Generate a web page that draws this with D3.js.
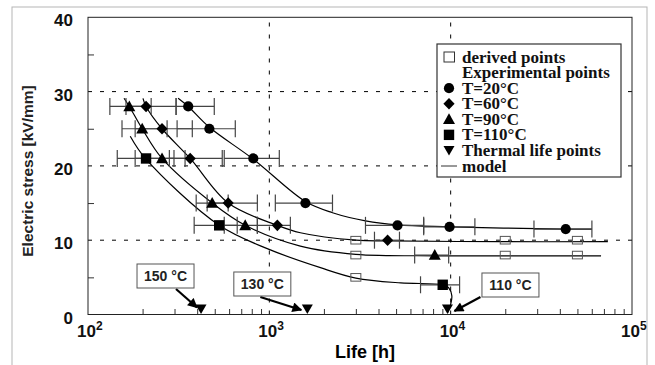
<!DOCTYPE html>
<html>
<head>
<meta charset="utf-8">
<script src="https://cdn.jsdelivr.net/npm/d3@7"></script>
<style>
  body { margin: 0; background: #fff; }
  .ticklab { font-family: "Liberation Sans", Arial, sans-serif; font-weight: bold; font-size: 17px; fill: #111; }
  .grid { stroke: #000; stroke-width: 1; stroke-dasharray: 4,8; fill: none; }
  .model { stroke: #000; stroke-width: 1.2; fill: none; }
  .err { stroke: #444; stroke-width: 1.2; fill: none; }
  .legend text { font-family: "Liberation Serif", "Times New Roman", serif; font-weight: bold; font-size: 17px; fill: #111; }
  .note text { font-family: "Liberation Sans", Arial, sans-serif; font-weight: bold; font-size: 14px; fill: #222; }
</style>
</head>
<body>
<script>
// axis ticks
var lifeTicks = [100, 1000, 10000, 100000];
var lifeExp = ["2", "3", "4", "5"];
var stressTicks = [0, 10, 20, 30, 40];
var stressMinor = [5, 15, 25, 35];
var lifeGrid = [1000, 10000];
var stressGrid = [10, 20, 30];

// experimental points: [life h, stress kV/mm, life low, life high]
var pts20 = [[357, 28, 306, 497], [467, 25, 310, 649], [816, 21, 564, 1135], [1581, 15, 1079, 2230],
             [5090, 12, 3390, 7100], [9860, 11.8, 7100, 13600], [43100, 11.5, 28800, 60100]];
var pts60 = [[209, 28, 162, 306], [256, 25, 182, 376], [366, 21, 281, 550], [593, 15, 454, 859],
             [1107, 12, 859, 1306], [4490, 10, 3800, 5220]];
var pts90 = [[169, 28, 132, 223], [199, 25, 154, 273], [256, 21, 182, 343], [484, 15, 395, 593],
             [736, 12, 564, 859], [8170, 8, 6330, 9750]];
var pts110 = [[209, 21, 145, 298], [529, 12, 385, 665], [9040, 4, 6820, 11200]];

// derived points (open squares)
var derived = [[3000, 10], [20000, 10], [50000, 10], [3000, 8], [20000, 8], [50000, 8], [3000, 5]];

// thermal life points
var thermalLife = [420, 1620, 9600];
var thermalLabels = ["150 °C", "130 °C", "110 °C"];

// model curves: [life, stress]
var model20 = [[314, 29.1], [357, 28], [467, 25.2], [816, 20.9], [1581, 15.2], [2230, 13.7],
               [3390, 12.6], [5090, 12.05], [9860, 11.8], [43100, 11.5], [60100, 11.5]];
var model60 = [[201, 29.1], [209, 28], [256, 25], [366, 21], [593, 15], [1107, 12], [1483, 11],
               [3000, 10], [4490, 9.9], [18900, 9.8], [73600, 9.8]];
var model90 = [[158, 29.1], [169, 28], [199, 25], [256, 21], [484, 15], [736, 12], [1483, 9.2],
               [3000, 8.1], [8170, 7.9], [18900, 7.9], [67500, 7.9]];
var model110 = [[171, 24], [209, 20.9], [529, 12], [1013, 8.7], [1914, 6.3], [3000, 4.9], [5300, 4.25],
                [9040, 4], [9750, 3.6], [10150, 2.5], [9980, 1.3], [9610, 0.2]];

var legendLabels = ["derived points", "Experimental points", "T=20°C", "T=60°C", "T=90°C", "T=110°C",
                    "Thermal life points", "model"];

var W = 655, H = 365;
var plotLeft = 88, plotRight = 632, plotTop = 17.3, plotBottom = 314.5;

var svg = d3.select("body").append("svg")
  .attr("width", W).attr("height", H);

// outer frame of the figure
svg.append("rect")
  .attr("x", 12).attr("y", 7).attr("width", 635).attr("height", 400)
  .attr("fill", "none").attr("stroke", "#b5b5b5").attr("stroke-width", 1);

var x = d3.scaleLog().domain([100, 100000]).range([plotLeft, plotRight]);
var y = d3.scaleLinear().domain([0, 40]).range([plotBottom, plotTop]);

// shape paths
function shapePath(kind) {
  if (kind == "circle") return d3.symbol(d3.symbolCircle, 82)();
  if (kind == "diamond") return "M0,-5.8L5.6,0L0,5.8L-5.6,0Z";
  if (kind == "triangle") return "M0,-6L6,4.8L-6,4.8Z";
  if (kind == "square") return "M-5.2,-5.2h10.4v10.4h-10.4Z";
  if (kind == "down") return "M-5.5,-9.5L5.5,-9.5L0,0Z";
  return "";
}

var series = [
  { shape: "circle", pts: pts20, curve: model20 },
  { shape: "diamond", pts: pts60, curve: model60 },
  { shape: "triangle", pts: pts90, curve: model90 },
  { shape: "square", pts: pts110, curve: model110 }
];

// grid
svg.selectAll(".hgrid").data(stressGrid).enter().append("line")
  .attr("class", "grid")
  .attr("x1", plotLeft).attr("x2", plotRight)
  .attr("y1", function(d) { return y(d); }).attr("y2", function(d) { return y(d); });
svg.selectAll(".vgrid").data(lifeGrid).enter().append("line")
  .attr("class", "grid")
  .attr("y1", plotBottom).attr("y2", plotTop)
  .attr("x1", function(d) { return x(d); }).attr("x2", function(d) { return x(d); });

// minor ticks, pointing inside
var minorLife = x.ticks().filter(function(d) { return lifeTicks.indexOf(d) < 0; });
var gx = svg.append("g").attr("transform", "translate(0," + plotBottom + ")")
  .call(d3.axisBottom(x).tickValues(minorLife).tickSize(-5.5).tickFormat(""));
gx.select(".domain").remove();
gx.selectAll("line").attr("stroke", "#333");

var gy = svg.append("g").attr("transform", "translate(" + plotLeft + ",0)")
  .call(d3.axisLeft(y).tickValues(stressMinor).tickSize(-6).tickFormat(""));
gy.select(".domain").remove();
gy.selectAll("line").attr("stroke", "#333");

// y tick labels
var gyl = svg.append("g").attr("transform", "translate(" + plotLeft + ",0)")
  .call(d3.axisLeft(y).tickValues(stressTicks).tickSize(0).tickPadding(15));
gyl.select(".domain").remove();
gyl.selectAll("text").attr("class", "ticklab").attr("font-size", null).attr("font-family", null)
  .attr("dy", "0.5em");

// x tick labels with exponents
var xl = svg.append("g").selectAll("text").data(lifeTicks).enter().append("text")
  .attr("class", "ticklab")
  .attr("x", function(d) { return x(d) - 11; })
  .attr("y", plotBottom + 22);
xl.append("tspan").text("10");
xl.append("tspan").attr("dy", -7).attr("font-size", 12).text(function(d, i) { return lifeExp[i]; });

// frame
svg.append("rect")
  .attr("x", plotLeft).attr("y", plotTop).attr("width", plotRight - plotLeft).attr("height", plotBottom - plotTop)
  .attr("fill", "none").attr("stroke", "#222").attr("stroke-width", 1);

// axis titles
svg.append("text")
  .attr("x", 365).attr("y", 358)
  .attr("text-anchor", "middle")
  .attr("font-family", "Liberation Sans, Arial, sans-serif")
  .attr("font-weight", "bold").attr("font-size", 18)
  .text("Life [h]");
svg.append("text")
  .attr("transform", "translate(33,171) rotate(-90)")
  .attr("text-anchor", "middle")
  .attr("font-family", "Liberation Sans, Arial, sans-serif")
  .attr("font-weight", "bold").attr("font-size", 15.5)
  .attr("fill", "#222")
  .text("Electric stress [kV/mm]");

// model lines
var line = d3.line()
  .x(function(d) { return x(d[0]); })
  .y(function(d) { return y(d[1]); })
  .curve(d3.curveCatmullRom.alpha(0.5));
series.forEach(function(s) {
  svg.append("path").attr("class", "model").attr("d", line(s.curve));
});

// derived points
svg.selectAll(".derived").data(derived).enter().append("rect")
  .attr("x", function(d) { return x(d[0]) - 5; })
  .attr("y", function(d) { return y(d[1]) - 3.8; })
  .attr("width", 10).attr("height", 7.6)
  .attr("fill", "none").attr("stroke", "#555").attr("stroke-width", 1);

// error bars and points
series.forEach(function(s) {
  var g = svg.append("g");
  var eb = g.selectAll(".eb").data(s.pts).enter().append("g").attr("class", "err");
  eb.append("line")
    .attr("x1", function(d) { return x(d[2]); }).attr("x2", function(d) { return x(d[3]); })
    .attr("y1", function(d) { return y(d[1]); }).attr("y2", function(d) { return y(d[1]); });
  eb.append("line")
    .attr("x1", function(d) { return x(d[2]); }).attr("x2", function(d) { return x(d[2]); })
    .attr("y1", function(d) { return y(d[1]) - 8.5; }).attr("y2", function(d) { return y(d[1]) + 8.5; });
  eb.append("line")
    .attr("x1", function(d) { return x(d[3]); }).attr("x2", function(d) { return x(d[3]); })
    .attr("y1", function(d) { return y(d[1]) - 8.5; }).attr("y2", function(d) { return y(d[1]) + 8.5; });
});
series.forEach(function(s) {
  svg.append("g").selectAll("path").data(s.pts).enter().append("path")
    .attr("d", shapePath(s.shape))
    .attr("fill", "#000")
    .attr("transform", function(d) { return "translate(" + x(d[0]) + "," + y(d[1]) + ")"; });
});

// thermal life points
svg.append("g").selectAll("path").data(thermalLife).enter().append("path")
  .attr("d", shapePath("down"))
  .attr("fill", "#000")
  .attr("transform", function(d) { return "translate(" + x(d) + "," + (y(0) - 0.5) + ")"; });

// notes with arrows, offsets from the thermal point
var notes = [
  { box: [-35.5, -38.5], from: [-25, -25.5], to: [-4, -7] },
  { box: [-45, -30.5], from: [-47, -17.5], to: [-6, -4.5] },
  { box: [63, -29.5], from: [33, -17.5], to: [7, -3.5] }
];
svg.append("defs").append("marker")
  .attr("id", "arr").attr("viewBox", "0 0 10 10").attr("refX", 9).attr("refY", 5)
  .attr("markerWidth", 5).attr("markerHeight", 4.5).attr("orient", "auto")
  .append("path").attr("d", "M0,0L10,5L0,10Z").attr("fill", "#000");
var ng = svg.append("g").attr("class", "note");
notes.forEach(function(n, i) {
  var px = x(thermalLife[i]), py = y(0);
  ng.append("line")
    .attr("x1", px + n.from[0]).attr("y1", py + n.from[1])
    .attr("x2", px + n.to[0]).attr("y2", py + n.to[1])
    .attr("stroke", "#000").attr("stroke-width", 2.2)
    .attr("marker-end", "url(#arr)");
  ng.append("rect")
    .attr("x", px + n.box[0] - 28.5).attr("y", py + n.box[1] - 12)
    .attr("width", 57).attr("height", 24)
    .attr("fill", "#fff").attr("stroke", "#555").attr("stroke-width", 1);
  ng.append("text")
    .attr("x", px + n.box[0]).attr("y", py + n.box[1] + 5)
    .attr("text-anchor", "middle")
    .text(thermalLabels[i]);
});

// legend
var lg = svg.append("g").attr("class", "legend");
lg.append("rect")
  .attr("x", 437).attr("y", 44).attr("width", 184).attr("height", 133)
  .attr("fill", "#fff").attr("stroke", "#333").attr("stroke-width", 1.2);
var rowY = d3.scalePoint().domain(d3.range(legendLabels.length)).range([57, 166]);
lg.selectAll("text").data(legendLabels).enter().append("text")
  .attr("x", 462)
  .attr("y", function(d, i) { return rowY(i) + 5.5; })
  .text(function(d) { return d; });
var legendShapes = [null, null, "circle", "diamond", "triangle", "square"];
lg.append("rect")
  .attr("x", 444).attr("y", rowY(0) - 5).attr("width", 10.5).attr("height", 10)
  .attr("fill", "none").attr("stroke", "#333").attr("stroke-width", 1);
legendShapes.forEach(function(k, i) {
  if (!k) return;
  lg.append("path").attr("d", shapePath(k)).attr("fill", "#000")
    .attr("transform", "translate(449," + rowY(i) + ")");
});
lg.append("path").attr("d", shapePath("down")).attr("fill", "#000")
  .attr("transform", "translate(449," + (rowY(6) + 5) + ")");
lg.append("line")
  .attr("x1", 441).attr("x2", 457).attr("y1", rowY(7)).attr("y2", rowY(7))
  .attr("stroke", "#333").attr("stroke-width", 1);
</script>
</body>
</html>
